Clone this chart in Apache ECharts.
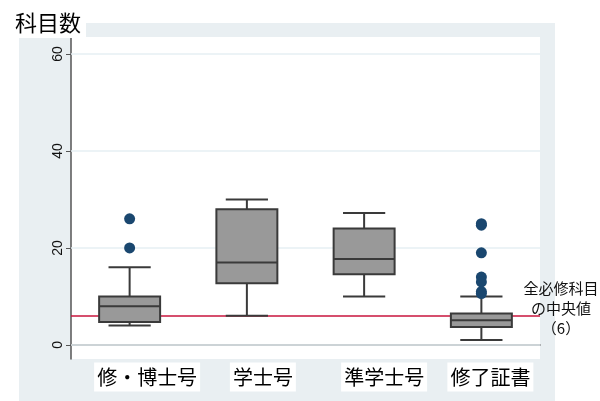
<!DOCTYPE html>
<html><head><meta charset="utf-8">
<script src="https://cdn.jsdelivr.net/npm/echarts@6/dist/echarts.min.js"></script>
<style>html,body{margin:0;padding:0;background:#fff}#c{width:600px;height:401px}</style>
</head><body><div id="c"></div>
<script>
var categories = ['修・博士号', '学士号', '準学士号', '修了証書'];
var lowerWhisker = [4, 6, 10, 1];
var q1 = [4.75, 12.7, 14.6, 3.7];
var median = [8, 17, 17.7, 5.1];
var q3 = [10, 28, 24, 6.5];
var upperWhisker = [16, 30, 27.2, 10];
var outliers = [[0, 26], [0, 20], [3, 25], [3, 24.7], [3, 19], [3, 14], [3, 13], [3, 11], [3, 10.6]];
var yTicks = [0, 20, 40, 60];
var referenceMedian = 6;
var yTitle = '科目数';
var refNote = '全必修科目\nの中央値\n（6）';

var FONT = "'Noto Sans CJK JP', sans-serif";
var boxData = categories.map(function (c, i) {
  return [i, lowerWhisker[i], q1[i], median[i], q3[i], upperWhisker[i]];
});
var padW = [35, 32, 40, 18];
var rich = { t: { backgroundColor: '#fff', fontSize: 20, lineHeight: 22, padding: [5, 3, 4, 3], color: '#000', fontFamily: FONT } };
padW.forEach(function (w, i) { rich['p' + i] = { width: w, fontSize: 20 }; });

var chart = echarts.init(document.getElementById('c'), null, { renderer: 'canvas' });
chart.setOption({
  animation: false,
  backgroundColor: '#fff',
  title: {
    text: yTitle, left: 0, top: 0,
    backgroundColor: '#fff', padding: [11, 5, 3, 15],
    textStyle: { fontSize: 22, fontWeight: 'normal', color: '#000', fontFamily: FONT, lineHeight: 24 }
  },
  graphic: [
    { type: 'rect', z: -10, silent: true, shape: { x: 19, y: 23, width: 536, height: 378 }, style: { fill: '#e9eff2' } },
    { type: 'text', z: 10, x: 561, y: 278, style: { text: refNote, fontSize: 15, lineHeight: 20, align: 'center', fill: '#111', fontFamily: FONT } }
  ],
  grid: { left: 71, right: 60, top: 37, bottom: 42, show: true, backgroundColor: '#fff', borderWidth: 0 },
  xAxis: {
    type: 'category', data: categories,
    axisLine: { lineStyle: { color: '#555', width: 1.5 } },
    axisTick: { show: false },
    splitLine: { show: false },
    axisLabel: {
      margin: 7, interval: 0, rich: rich,
      formatter: function (v, i) { return '{p' + i + '| }{t|' + v + '}'; }
    }
  },
  yAxis: {
    type: 'value', min: -2.9, max: 63.5,
    axisLine: { show: true, lineStyle: { color: '#555', width: 1.5 } },
    axisTick: { show: true, length: 5, customValues: yTicks, lineStyle: { color: '#555' } },
    splitLine: { show: false },
    axisLabel: { customValues: yTicks, rotate: 90, margin: 6, fontSize: 14, color: '#111', fontFamily: 'Liberation Sans, sans-serif' }
  },
  series: [
    {
      type: 'line', data: [], silent: true,
      markLine: {
        silent: true, symbol: 'none', label: { show: false }, z: 1,
        lineStyle: { color: '#e6eff3', width: 1.5, type: 'solid' },
        data: yTicks.map(function (t) { return { yAxis: t }; })
      }
    },
    {
      type: 'line', data: [], silent: true,
      markLine: {
        silent: true, symbol: 'none', label: { show: false }, z: 2,
        lineStyle: { color: '#c8143c', width: 1.5, type: 'solid' },
        data: [{ yAxis: referenceMedian }]
      }
    },
    {
      type: 'custom', z: 5,
      data: boxData,
      renderItem: function (params, api) {
        var i = api.value(0);
        var band = api.size([1, 0])[0];
        var bw = band * 0.52, cw = band * 0.36;
        var pLo = api.coord([i, api.value(1)]);
        var pQ1 = api.coord([i, api.value(2)]);
        var pMed = api.coord([i, api.value(3)]);
        var pQ3 = api.coord([i, api.value(4)]);
        var pHi = api.coord([i, api.value(5)]);
        var x = pMed[0];
        var ls = { stroke: '#3a3a3a', lineWidth: 2 };
        return {
          type: 'group',
          children: [
            { type: 'line', shape: { x1: x, y1: pQ3[1], x2: x, y2: pHi[1] }, style: ls },
            { type: 'line', shape: { x1: x, y1: pQ1[1], x2: x, y2: pLo[1] }, style: ls },
            { type: 'line', shape: { x1: x - cw / 2, y1: pHi[1], x2: x + cw / 2, y2: pHi[1] }, style: ls },
            { type: 'line', shape: { x1: x - cw / 2, y1: pLo[1], x2: x + cw / 2, y2: pLo[1] }, style: ls },
            { type: 'rect', shape: { x: x - bw / 2, y: pQ3[1], width: bw, height: pQ1[1] - pQ3[1] }, style: { fill: '#999999', stroke: '#3a3a3a', lineWidth: 2 } },
            { type: 'line', shape: { x1: x - bw / 2, y1: pMed[1], x2: x + bw / 2, y2: pMed[1] }, style: ls }
          ]
        };
      }
    },
    {
      type: 'scatter', z: 6, data: outliers, symbolSize: 11,
      itemStyle: { color: '#1a476f', opacity: 1 }
    }
  ]
});
</script></body></html>
